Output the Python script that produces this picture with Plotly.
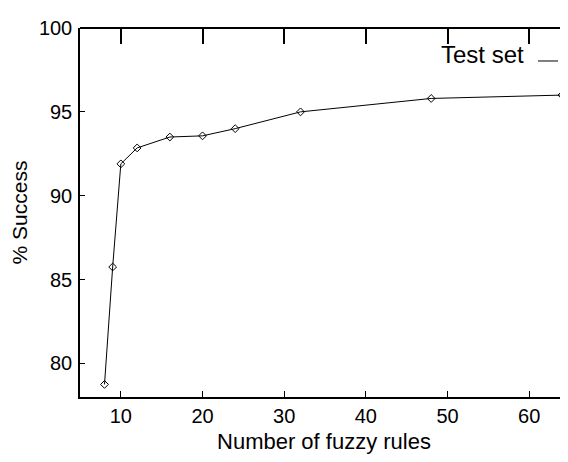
import plotly.graph_objects as go

rules = [8, 9, 10, 12, 16, 20, 24, 32, 48, 64]
success = [78.75, 85.75, 91.9, 92.85, 93.5, 93.57, 94.0, 95.0, 95.8, 96.0]
x_ticks = [10, 20, 30, 40, 50, 60]
y_ticks = [80, 85, 90, 95, 100]
series_name = "Test set"

FONT = "Liberation Sans, Arial, Helvetica, sans-serif"

fig = go.Figure()
fig.add_trace(go.Scatter(
    x=rules, y=success, mode="lines+markers", name=series_name,
    line=dict(color="black", width=1),
    marker=dict(symbol="diamond-open", size=6, color="black", line=dict(width=1, color="black")),
    showlegend=False,
))
# helper trace (not shown) so the top axis is drawn
fig.add_trace(go.Scatter(
    x=rules, y=success, mode="markers", xaxis="x2", yaxis="y",
    marker=dict(size=1, opacity=0), hoverinfo="skip", showlegend=False,
))

fig.update_layout(
    width=560, height=454,
    margin=dict(l=72, r=0, t=20, b=65),
    paper_bgcolor="white", plot_bgcolor="white",
    font=dict(family=FONT, size=20, color="black"),
    xaxis=dict(
        range=[5, 64.75], tickvals=x_ticks, ticks="inside", ticklen=6,
        tickcolor="black", showline=True, linecolor="black", linewidth=1.5,
        showgrid=False, zeroline=False, ticklabelstandoff=0,
        title=dict(text="Number of fuzzy rules", font=dict(size=22), standoff=8),
    ),
    xaxis2=dict(
        range=[5, 64.75], tickmode="array", tickvals=x_ticks, ticks="inside",
        ticklen=15, tickwidth=1.5, tickcolor="black", showline=True,
        linecolor="black", linewidth=1.5, showgrid=False, zeroline=False,
        showticklabels=False, overlaying="x", side="top",
        anchor="free", position=1,
    ),
    yaxis=dict(
        range=[78, 100], tickvals=y_ticks, ticks="inside", ticklen=5,
        tickcolor="black", showline=True, linecolor="black", linewidth=1.5,
        showgrid=False, zeroline=False, ticklabelstandoff=2,
        title=dict(text="% Success", font=dict(size=21), standoff=13),
    ),
    annotations=[dict(
        text=series_name, xref="paper", yref="paper", x=0.913, y=0.928,
        xanchor="right", yanchor="middle", showarrow=False,
        font=dict(family=FONT, size=24, color="black"),
    )],
    shapes=[dict(
        type="line", xref="paper", yref="paper", x0=0.9385, x1=0.9795,
        y0=0.9106, y1=0.9106, line=dict(color="black", width=1),
    )],
)

fig.write_html("out.html")
